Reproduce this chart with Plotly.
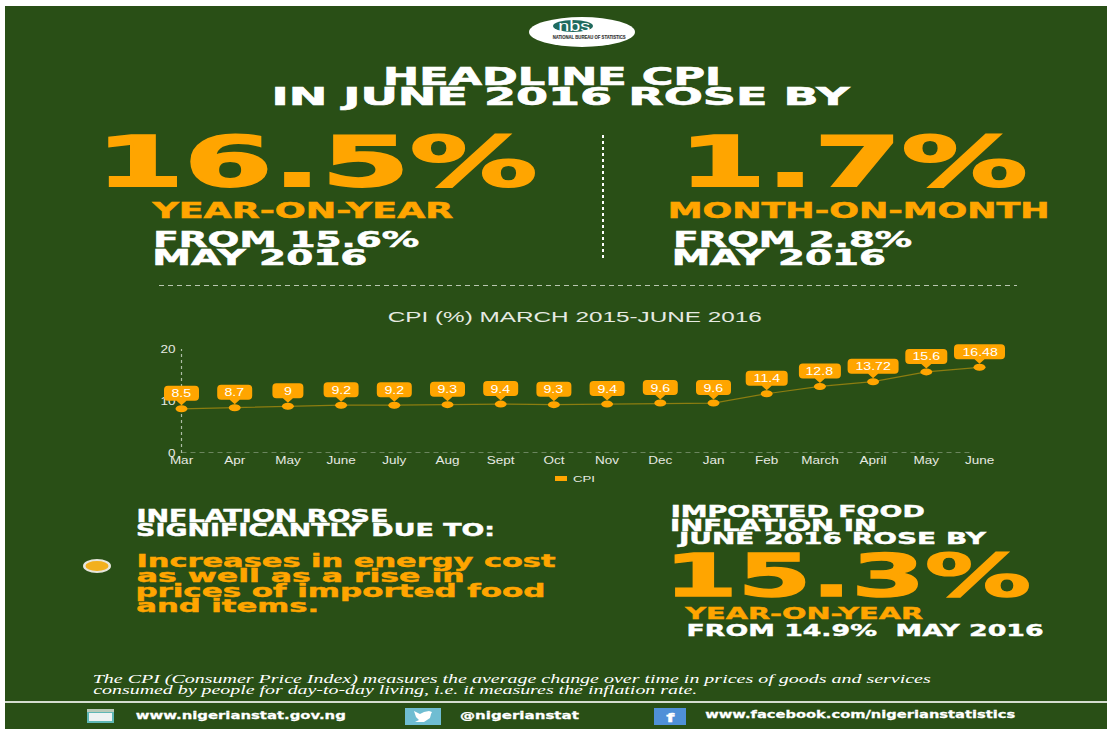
import json
import plotly.graph_objects as go

# chart data
months = ["Mar", "Apr", "May", "June", "July", "Aug", "Sept", "Oct", "Nov", "Dec", "Jan", "Feb", "March", "April", "May", "June"]
cpi = [8.5, 8.7, 9, 9.2, 9.2, 9.3, 9.4, 9.3, 9.4, 9.6, 9.6, 11.4, 12.8, 13.72, 15.6, 16.48]
cpi_labels = ["8.5", "8.7", "9", "9.2", "9.2", "9.3", "9.4", "9.3", "9.4", "9.6", "9.6", "11.4", "12.8", "13.72", "15.6", "16.48"]
y_ticks = [0, 10, 20]

W, H = 1107, 729
GREEN = "#294F16"
ORANGE = "#FFA500"
WHITE = "#FFFFFF"
LIGHT = "#E6EAE2"
BOLD = "DejaVu Sans"
SANS = "Liberation Sans"
SERIF = "Liberation Serif"

annotations = []
text_widths = []  # target width in px for every annotation, None = use the stretch factor
shapes = []


def px(x):
    return x / W


def py(y):
    return 1 - y / H


# text block given by its left/right edge and its vertical centre in the picture
def label(text, x0, x1, y, size, color=WHITE, family=BOLD, weight=700, style="normal"):
    annotations.append(dict(text=text, x=px((x0 + x1) / 2), y=py(y), xref="paper", yref="paper",
                            xanchor="center", yanchor="middle", showarrow=False,
                            font=dict(family=family, size=size, color=color, weight=weight, style=style)))
    text_widths.append(x1 - x0)


def rect(x0, y0, x1, y1, color, line=None, kind="rect"):
    shapes.append(dict(type=kind, xref="paper", yref="paper", x0=px(x0), x1=px(x1), y0=py(y0), y1=py(y1),
                       fillcolor=color, line=dict(color=line or color, width=1 if line else 0), layer="below"))


def rule(x0, y0, x1, y1, color, width, dash):
    shapes.append(dict(type="line", xref="paper", yref="paper", x0=px(x0), x1=px(x1), y0=py(y0), y1=py(y1),
                       line=dict(color=color, width=width, dash=dash), layer="below"))


# background
rect(5, 6, W, H, GREEN)
rule(5, 702, W, 702, "#D5DDD0", 2, "solid")

# logo
rect(529, 17, 635, 47, WHITE, kind="circle")
rect(553, 20, 593, 32, "#1F6A5E", kind="circle")
label("nbs", 558, 590, 26, 14, WHITE, SANS, 400)
label("NATIONAL BUREAU OF STATISTICS", 553, 626, 37, 5, "#333333", SANS, 700)

# headline
label("HEADLINE CPI", 383, 721, 76.5, 24)
label("IN JUNE 2016 ROSE BY", 272, 850, 97, 24)

label("16.5%", 95, 537, 161.5, 70, ORANGE)
label("YEAR-ON-YEAR", 152, 453, 211, 21, ORANGE)
label("FROM 15.6%", 153, 419, 239, 22)
label("MAY 2016", 152, 367, 257, 22)

label("1.7%", 678, 1027, 161.5, 70, ORANGE)
label("MONTH-ON-MONTH", 667, 1049, 211, 21, ORANGE)
label("FROM 2.8%", 673, 912, 239, 22)
label("MAY 2016", 672, 886, 257, 22)

rule(603, 135, 603, 260, WHITE, 2, "dot")
rule(159, 285.5, 1017, 285.5, "#B9C6B0", 1, "5px,4px")

# chart title and legend
label("CPI (%) MARCH 2015-JUNE 2016", 388, 762, 316.5, 14, LIGHT, SANS, 400)
rect(555, 476, 567, 481, ORANGE)
label("CPI", 573, 595, 478.5, 9.5, LIGHT, SANS, 400)

# lower left block
label("INFLATION ROSE", 136, 388, 516, 17)
label("SIGNIFICANTLY DUE TO:", 136, 495, 529.5, 17)
rect(83, 559, 111, 573, "#E6E6DC", kind="circle")
rect(85.5, 561, 108.5, 571, "#F2B01E", kind="circle")
label("Increases in energy cost", 136, 555, 560, 18, ORANGE)
label("as well as a rise in", 136, 464, 575, 18, ORANGE)
label("prices of imported food", 136, 546, 590, 18, ORANGE)
label("and items.", 136, 319, 605, 18, ORANGE)

# lower right block
label("IMPORTED FOOD", 670, 924, 511.5, 15)
label("INFLATION IN", 670, 877, 525.5, 15)
label("JUNE 2016 ROSE BY", 679, 986, 538.5, 15)
label("15.3%", 664, 1031, 575.5, 58, ORANGE)
label("YEAR-ON-YEAR", 684, 922, 613.5, 16, ORANGE)
label("FROM 14.9%  MAY 2016", 686, 1043, 630.5, 15)

# footnote
label("The CPI (Consumer Price Index) measures the average change over time in prices of goods and services",
      93, 931, 679, 12, WHITE, SERIF, 400, "italic")
label("consumed by people for day-to-day living, i.e. it measures the inflation rate.",
      93, 697, 689.5, 12, WHITE, SERIF, 400, "italic")

# footer with icons
rect(87, 709, 114, 723, "#5FB7B5")
rect(89, 713, 112, 721, "#EEF2F2")
rect(87, 709, 114, 712, "#B9C9B8")
label("www.nigerianstat.gov.ng", 136, 346, 715.5, 11)

rect(405, 708, 441, 725, "#6FBDD2")
bird = [(414, 711), (420, 714), (424, 712), (429, 711), (432, 712), (431, 714), (430, 718), (424, 722), (415, 722), (419, 720), (416, 717)]
shapes.append(dict(type="path", xref="paper", yref="paper", layer="below", fillcolor=WHITE, line=dict(width=0),
                   path="M " + " L ".join(f"{px(a):.5f},{py(b):.5f}" for a, b in bird) + " Z"))
label("@nigerianstat", 460, 579, 715, 11)

rect(654, 708, 686, 725, "#4F90D8")
label("f", 666, 674, 717, 13, WHITE, SANS, 700)
label("www.facebook.com/nigerianstatistics", 705, 1015, 714.5, 11)

# chart axes lines
shapes.append(dict(type="line", xref="x", yref="y", x0=0, x1=0, y0=0, y1=20, layer="below",
                   line=dict(color="#AEBDA6", width=1.2, dash="dot")))
shapes.append(dict(type="line", xref="x", yref="y", x0=0, x1=14.9, y0=0, y1=0, layer="below",
                   line=dict(color="#AEBDA6", width=1, dash="5px,4px")))

# callouts and points, anchored on the data and sized in px
bubble_width = {1: 31, 3: 35, 4: 42, 5: 51}
for i, (v, lab) in enumerate(zip(cpi, cpi_labels)):
    w = bubble_width[len(lab)] / 2
    r = 4
    top, bot = 23, 8
    path = (f"M {-w + r} {top} L {w - r} {top} Q {w} {top} {w} {top - r} L {w} {bot + r} Q {w} {bot} {w - r} {bot} "
            f"L 5 {bot} L 0 3.5 L -5 {bot} L {-w + r} {bot} Q {-w} {bot} {-w} {bot + r} L {-w} {top - r} "
            f"Q {-w} {top} {-w + r} {top} Z")
    shapes.append(dict(type="path", xref="x", yref="y", xsizemode="pixel", ysizemode="pixel",
                       xanchor=i, yanchor=v, path=path, fillcolor=ORANGE, line=dict(width=0)))
    shapes.append(dict(type="circle", xref="x", yref="y", xsizemode="pixel", ysizemode="pixel",
                       xanchor=i, yanchor=v, x0=-6, x1=6, y0=-3.5, y1=3.5, fillcolor=ORANGE, line=dict(width=0)))
    annotations.append(dict(text=lab, x=i, y=v, xref="x", yref="y", yshift=15.5, showarrow=False,
                            xanchor="center", yanchor="middle",
                            font=dict(family=SANS, size=10.5, color=WHITE)))
    text_widths.append(None)

fig = go.Figure()
fig.add_trace(go.Scatter(x=list(range(len(months))), y=cpi, name="CPI", mode="lines+markers",
                         line=dict(color="#8C7D10", width=1.2), marker=dict(color=ORANGE, size=6),
                         showlegend=False, hoverinfo="skip"))
# the axes run one step past the data on each side, so the callouts at the ends are not clipped
fig.update_layout(
    width=W, height=H, margin=dict(l=0, r=0, t=0, b=0, autoexpand=False),
    paper_bgcolor=WHITE, plot_bgcolor="rgba(0,0,0,0)", showlegend=False,
    shapes=shapes, annotations=annotations,
    xaxis=dict(domain=[px(181.5 - 53.2), px(979.5 + 53.2)], range=[-1, 16], tickmode="array",
               tickvals=list(range(len(months))), ticktext=months, showgrid=False, zeroline=False,
               showline=False, ticks="", tickangle=0, tickfont=dict(family=SANS, size=10, color=LIGHT)),
    yaxis=dict(domain=[py(453), py(453 - 24 * 5.2)], range=[0, 24], tickmode="array", tickvals=y_ticks,
               anchor="free", position=px(181.5), showgrid=False, zeroline=False, showline=False, ticks="",
               ticklabelstandoff=6, tickfont=dict(family=SANS, size=10, color=LIGHT)),
)

# the original lettering is stretched sideways and heavier, so widen the svg text to its
# measured width and thicken the bold labels a little
post_script = """
document.body.style.margin = '0';
document.body.style.overflow = 'hidden';
var widths = %s;
function widen(t, w) {
    t.setAttribute('textLength', w);
    t.setAttribute('lengthAdjust', 'spacingAndGlyphs');
}
document.querySelectorAll('g.annotation').forEach(function (g) {
    var t = g.querySelector('text');
    var w = widths[+g.getAttribute('data-index')];
    widen(t, w || t.getComputedTextLength() * 1.35);
    if (t.style.fontWeight == '700') {
        t.style.stroke = t.style.fill;
        t.style.strokeWidth = parseFloat(t.style.fontSize) * 0.025 + 'px';
    }
});
document.querySelectorAll('.xtick text, .ytick text').forEach(function (t) {
    widen(t, t.getComputedTextLength() * 1.35);
});
""" % json.dumps(text_widths)

fig.write_html("out.html", post_script=post_script, config=dict(displayModeBar=False))
